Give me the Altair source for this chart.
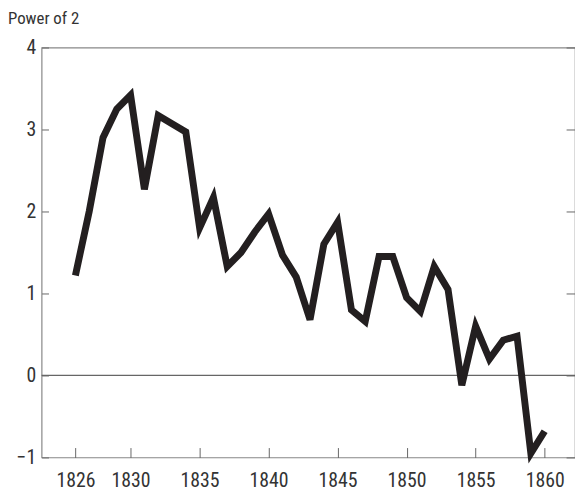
import altair as alt
import pandas as pd

years = list(range(1826, 1861))
values = [1.22, 2.0, 2.9, 3.25, 3.42, 2.27, 3.17, 3.07, 2.97, 1.8, 2.17,
          1.33, 1.5, 1.75, 1.97, 1.47, 1.2, 0.68, 1.6, 1.87, 0.8, 0.66,
          1.45, 1.45, 0.95, 0.78, 1.33, 1.05, -0.12, 0.6, 0.2, 0.43, 0.48,
          -0.95, -0.68]
x_ticks = [1826, 1830, 1835, 1840, 1845, 1850, 1855, 1860]
y_ticks = [-1, 0, 1, 2, 3, 4]
title_text = "Power of 2"

df = pd.DataFrame({"year": years, "value": values})

FONT = "Liberation Sans Narrow, Roboto Condensed, Arial Narrow, sans-serif"

xs = alt.Scale(domain=[1823.55, 1862.2], nice=False, zero=False)
ys = alt.Scale(domain=[-1, 4], nice=False, zero=False)

x_axis = alt.Axis(orient="bottom", values=x_ticks, format="d", tickSize=10,
                  offset=-10, domain=False, grid=False, labelPadding=13,
                  labelFontSize=20, labelFont=FONT, labelColor="#333",
                  tickColor="#666", labelFlush=False)
y_axis = alt.Axis(orient="left", values=y_ticks, tickSize=7, offset=-7,
                  domain=False, grid=False, labelPadding=6, labelFontSize=20,
                  labelFont=FONT, labelColor="#333", tickColor="#666",
                  labelFlush=False)
y_axis_r = alt.Axis(orient="right", values=y_ticks, tickSize=9, offset=-9,
                    domain=False, grid=False, labels=False, tickColor="#666")

line = alt.Chart(df).mark_line(color="#231f20", strokeWidth=7,
                               strokeJoin="miter", strokeCap="butt").encode(
    x=alt.X("year:Q", scale=xs, title=None, axis=x_axis),
    y=alt.Y("value:Q", scale=ys, title=None, axis=y_axis),
)

zero = alt.Chart(pd.DataFrame({"z": [0]})).mark_rule(
    color="#666", strokeWidth=1.2).encode(
    y=alt.Y("z:Q", scale=ys, title=None, axis=y_axis)
)

right = alt.Chart(df).mark_line(opacity=0).encode(
    x=alt.X("year:Q", scale=xs, title=None, axis=x_axis),
    y=alt.Y("value:Q", scale=ys, title=None, axis=y_axis_r),
)

main = alt.layer(zero, line)

chart = alt.layer(main, right).resolve_axis(y="independent").properties(
    width=540, height=415,
    autosize=alt.AutoSizeParams(type="none"),
    padding={"left": 34, "top": 37, "right": 0, "bottom": 34},
    title=alt.TitleParams(title_text, anchor="start", frame="group", dx=-34,
                          offset=10, fontSize=17, font=FONT,
                          fontWeight="normal", color="#333"),
).configure_view(stroke="#888", strokeWidth=1.2)

chart.save("out.html", embed_options={"renderer": "svg", "actions": False})
